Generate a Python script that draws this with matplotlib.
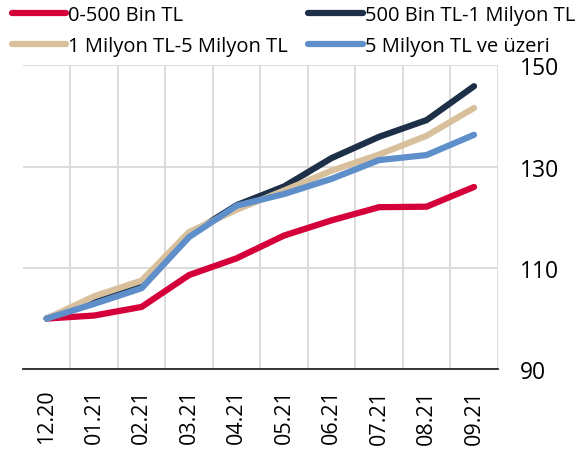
import matplotlib.pyplot as plt
import numpy as np

plt.rcParams['font.family'] = ['Open Sans', 'DejaVu Sans']

months = ['12.20', '01.21', '02.21', '03.21', '04.21',
          '05.21', '06.21', '07.21', '08.21', '09.21']

bin_0_500 = [100.0, 100.6, 102.3, 108.6, 111.9, 116.4, 119.4, 122.0, 122.1, 126.0]
bin_500_1m = [100.0, 103.5, 106.5, 116.5, 122.4, 126.1, 131.7, 135.9, 139.2, 145.9]
milyon_1_5 = [100.0, 104.4, 107.5, 117.1, 121.5, 125.3, 129.2, 132.4, 136.1, 141.6]
milyon_5_up = [100.0, 102.9, 106.0, 116.1, 122.3, 124.6, 127.6, 131.3, 132.3, 136.3]

series = [
    ('0-500 Bin TL', bin_0_500, '#d5003a'),
    ('500 Bin TL-1 Milyon TL', bin_500_1m, '#1d3047'),
    ('1 Milyon TL-5 Milyon TL', milyon_1_5, '#d8c09c'),
    ('5 Milyon TL ve üzeri', milyon_5_up, '#5e8fca'),
]

fig = plt.figure(figsize=(5.87, 4.52), dpi=100)
ax = fig.add_axes([0.039, 0.181, 0.809, 0.672])

x = np.arange(len(months))
lines = []
for label, vals, color in series:
    ln, = ax.plot(x, vals, color=color, lw=4.5, label=label,
                  solid_capstyle='round', solid_joinstyle='round')
    lines.append(ln)

ax.set_xlim(-0.5, len(months) - 0.5)
ax.set_ylim(90, 150)
ax.set_yticks([90, 110, 130, 150])
ax.set_xticks(x)
ax.set_xticklabels(months, rotation=90)
ax.set_xticks(np.arange(len(months)) + 0.5, minor=True)

ax.yaxis.tick_right()
ax.tick_params(axis='y', length=0, pad=16, labelsize=16.5)
ax.tick_params(axis='x', which='both', length=0, pad=14, labelsize=15.5)

ax.grid(axis='y', which='major', color='#d9d9d9', lw=1.3)
ax.grid(axis='x', which='minor', color='#d9d9d9', lw=1.3)
ax.set_axisbelow(True)

for s in ['top', 'left', 'right']:
    ax.spines[s].set_visible(False)
ax.spines['bottom'].set_color('#262626')
ax.spines['bottom'].set_linewidth(1.3)

# two rows: red/navy on top, beige/blue below
order = [0, 2, 1, 3]
fig.legend([lines[i] for i in order], [series[i][0] for i in order],
           ncol=2, loc='upper left', bbox_to_anchor=(0.006, 1.004),
           frameon=False, fontsize=14.5, handlelength=2.7, handletextpad=0.12,
           columnspacing=1.0, labelspacing=0.52, borderaxespad=0)

fig.savefig('out.png', dpi=100)
